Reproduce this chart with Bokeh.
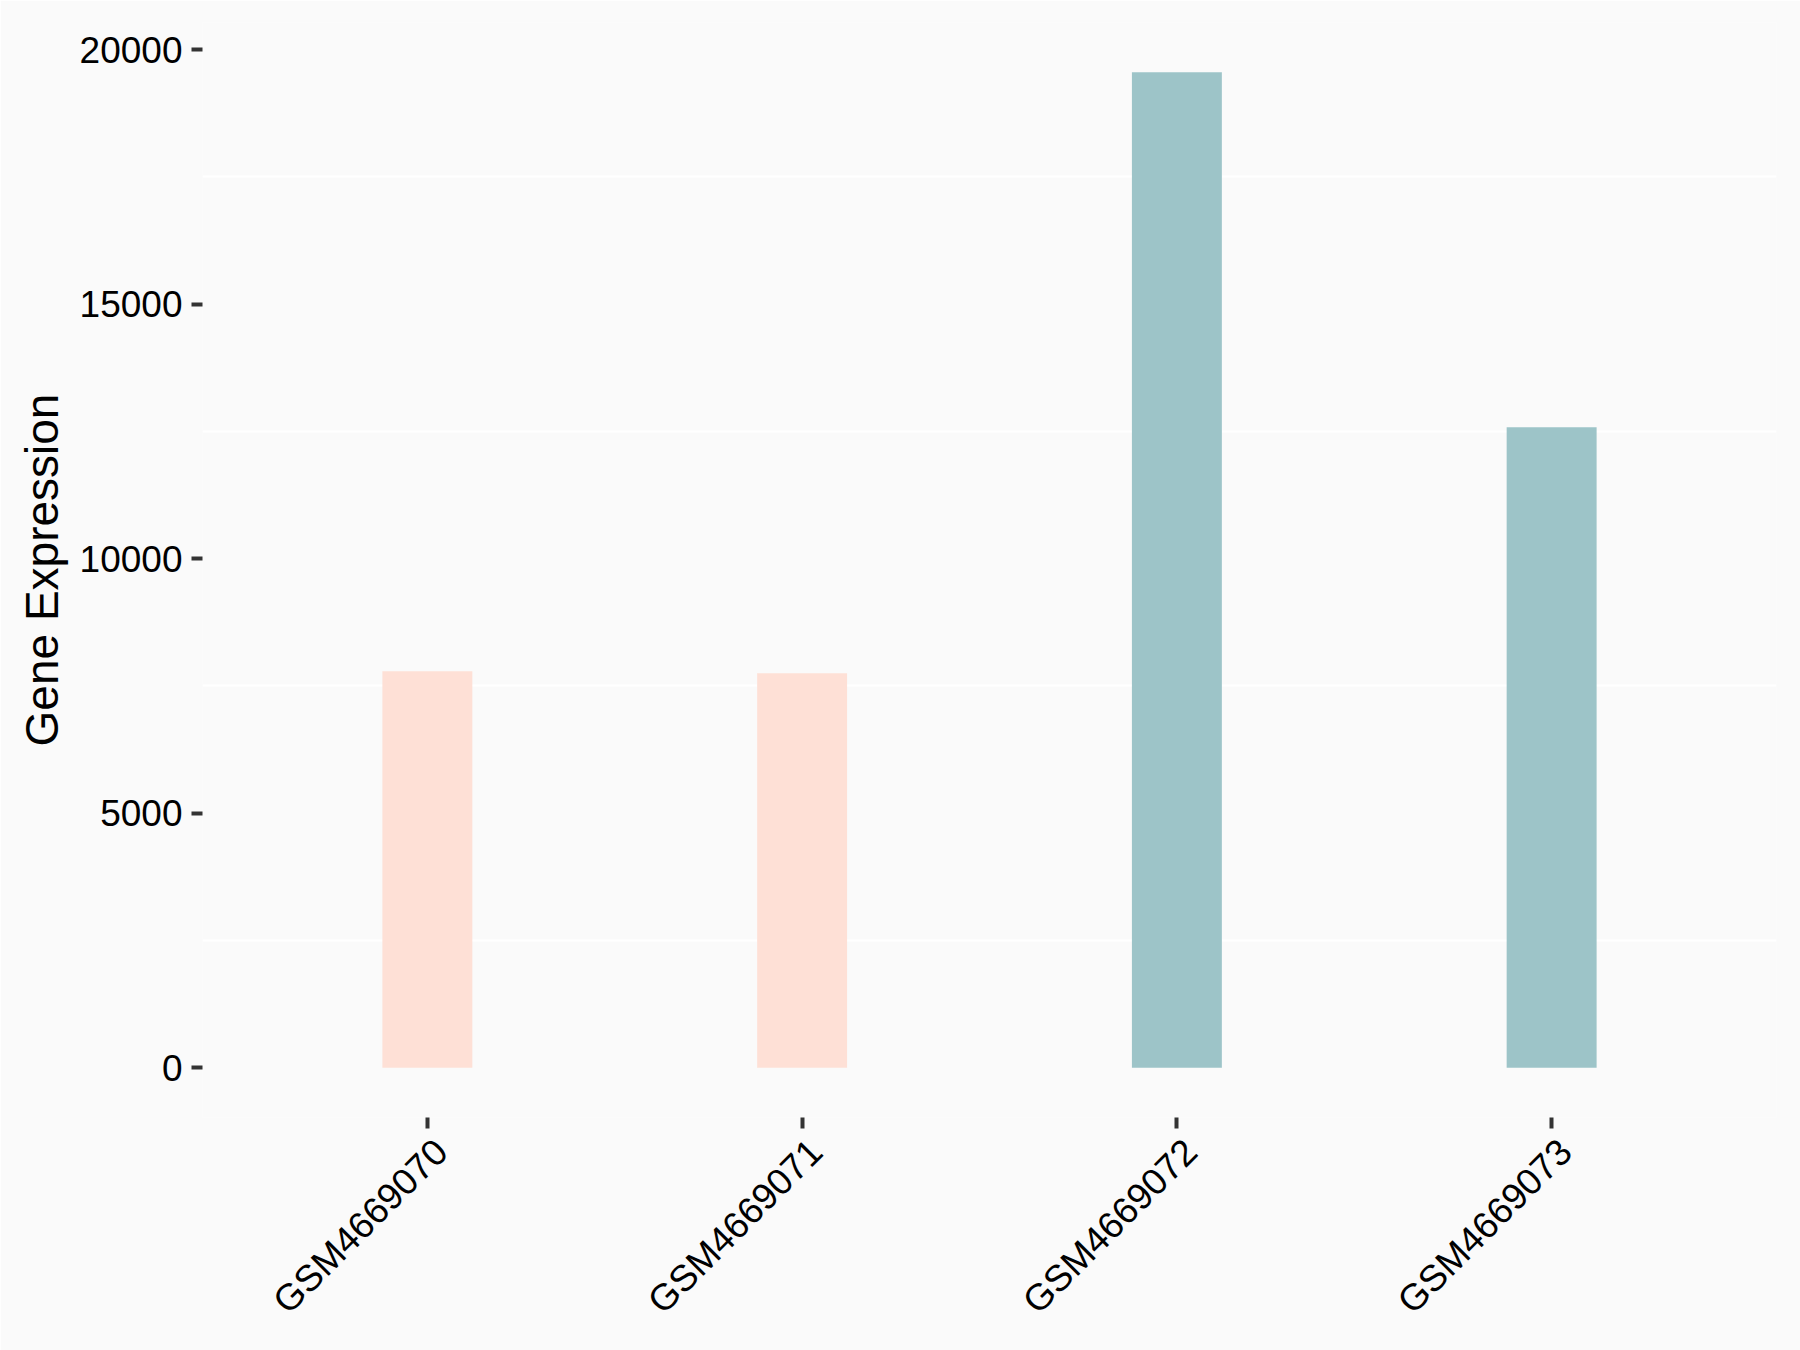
import math
from bokeh.plotting import figure
from bokeh.models import ColumnDataSource, Range1d, FixedTicker, LinearAxis
from bokeh.embed import file_html
from bokeh.resources import INLINE

samples = ["GSM4669070", "GSM4669071", "GSM4669072", "GSM4669073"]
expression = [7790, 7750, 19555, 12580]
groups = ["A", "A", "B", "B"]
group_colors = {"A": "#FEE0D6", "B": "#9DC4C8"}
y_ticks = [0, 5000, 10000, 15000, 20000]
y_minor = [2500, 7500, 12500, 17500]

ymax = max(expression)
n = len(samples)
pos = [i + 1 for i in range(n)]   # discrete positions 1..n, as in a ggplot discrete scale
src = ColumnDataSource(dict(
    sample=samples,
    pos=pos,
    value=expression,
    color=[group_colors[g] for g in groups],
))

pad = 0.6            # discrete-axis expansion (category units) each side
label_shift = 0.037  # rotated labels hang slightly right of their tick (hjust=1, vjust=1)

p = figure(
    x_range=Range1d(1 - pad, n + pad),
    y_range=Range1d(-0.05 * ymax, 1.05 * ymax),
    width=1800, height=1350,
    output_backend="svg", toolbar_location=None,
    min_border_left=202, min_border_right=24,
    min_border_top=22, min_border_bottom=233,
)
p.vbar(x="pos", top="value", bottom=0, width=0.24, color="color",
       line_color=None, source=src)

bg = "#FAFAFA"
p.background_fill_color = bg
p.border_fill_color = bg
p.outline_line_color = None

p.xgrid.grid_line_color = None
p.ygrid.grid_line_color = None
p.ygrid.minor_grid_line_color = "white"
p.ygrid.minor_grid_line_width = 2

# y axis
p.yaxis.ticker = FixedTicker(ticks=y_ticks, minor_ticks=y_minor)
p.yaxis.minor_tick_line_color = None
p.yaxis.axis_line_color = None
p.yaxis.major_tick_line_color = "#333333"
p.yaxis.major_tick_line_width = 4
p.yaxis.major_tick_in = 0
p.yaxis.major_tick_out = 11
p.yaxis.major_label_text_font = "Liberation Sans"
p.yaxis.major_label_text_font_size = "37px"
p.yaxis.major_label_text_color = "black"
p.yaxis.major_label_standoff = 9
p.yaxis.axis_label = "Gene Expression"
p.yaxis.axis_label_text_font = "Liberation Sans"
p.yaxis.axis_label_text_font_size = "46px"
p.yaxis.axis_label_text_font_style = "normal"
p.yaxis.axis_label_text_color = "black"
p.yaxis.axis_label_standoff = 9

# x axis: ticks on the main axis, rotated sample names on a twin axis
p.xaxis.ticker = FixedTicker(ticks=pos, minor_ticks=[])
p.xaxis.major_label_overrides = {x: "" for x in pos}
p.xaxis.axis_line_color = None
p.xaxis.major_tick_line_color = "#333333"
p.xaxis.major_tick_line_width = 4
p.xaxis.major_tick_in = 0
p.xaxis.major_tick_out = 11
p.xaxis.minor_tick_line_color = None
p.xaxis.major_label_text_font_size = "1px"
p.xaxis.major_label_standoff = 0

p.extra_x_ranges = {"xlab": Range1d(1 - pad - label_shift, n + pad - label_shift)}
label_axis = LinearAxis(
    x_range_name="xlab",
    ticker=FixedTicker(ticks=pos, minor_ticks=[]),
    major_label_overrides={x: s for x, s in zip(pos, samples)},
    axis_line_color=None, major_tick_line_color=None,
    major_tick_in=0, major_tick_out=0, minor_tick_line_color=None,
    major_label_text_font="Liberation Sans",
    major_label_text_font_size="37px", major_label_text_color="black",
    major_label_orientation=math.pi / 4, major_label_standoff=17,
)
p.add_layout(label_axis, "below")

open("out.html", "w").write(file_html(p, INLINE))
